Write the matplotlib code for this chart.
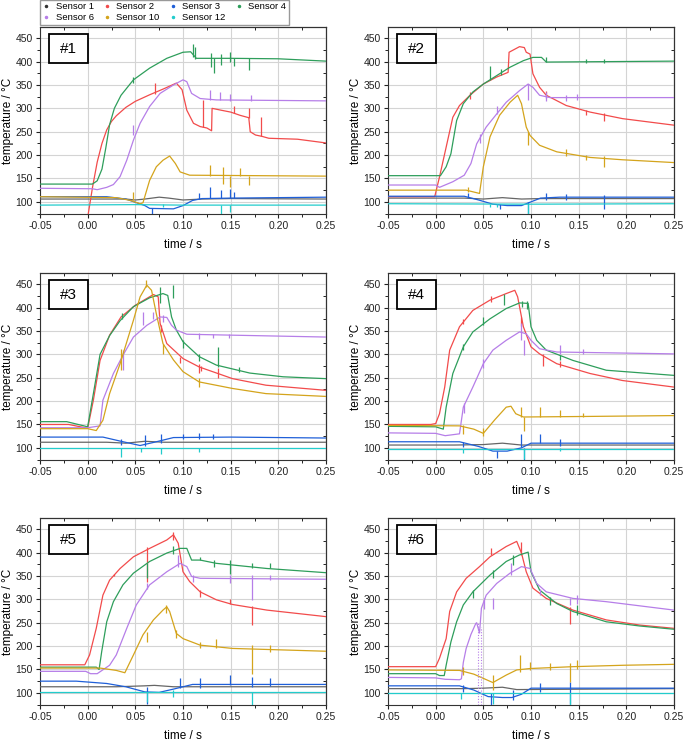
import matplotlib
matplotlib.use("Agg")
import matplotlib.pyplot as plt
from matplotlib.lines import Line2D
from matplotlib.patches import Rectangle
from matplotlib.ticker import MultipleLocator

plt.rcParams['font.family'] = ['Liberation Sans', 'DejaVu Sans']

sensor_ids = [1, 2, 3, 4, 6, 10, 12]
sensor_names = ["Sensor 1", "Sensor 2", "Sensor 3", "Sensor 4", "Sensor 6", "Sensor 10", "Sensor 12"]
sensor_colors = ['#666666', '#f24b4b', '#1f5fd8', '#2e9e5b', '#b67ee8', '#d4a41c', '#22cccc']
run_labels = ["#1", "#2", "#3", "#4", "#5", "#6"]

# ---- run #1 : (time s, temperature degC)
r1_s1 = [(-0.05, 106), (0.04, 106), (0.05, 104), (0.06, 106), (0.075, 110), (0.085, 108), (0.10, 104), (0.12, 106), (0.15, 107), (0.25, 106)]
r1_s2 = [(-0.0005, 60), (0.005, 130), (0.01, 185), (0.015, 225), (0.02, 254), (0.025, 272), (0.03, 284), (0.04, 302), (0.05, 315), (0.065, 329), (0.08, 342), (0.093, 354), (0.099, 340), (0.104, 296), (0.111, 268), (0.118, 261), (0.125, 258), (0.13, 252), (0.1305, 300), (0.14, 296), (0.15, 292), (0.16, 285), (0.169, 280), (0.1705, 250), (0.176, 243), (0.183, 240), (0.19, 236), (0.22, 234), (0.25, 226)]
r1_s3 = [(-0.05, 111), (0.02, 111), (0.04, 106), (0.06, 92), (0.065, 86), (0.09, 85), (0.10, 92), (0.11, 103), (0.12, 107), (0.15, 108), (0.25, 110)]
r1_s4 = [(-0.05, 138), (0.005, 138), (0.01, 145), (0.015, 170), (0.019, 215), (0.023, 265), (0.028, 300), (0.035, 328), (0.048, 361), (0.065, 386), (0.083, 407), (0.10, 420), (0.108, 421), (0.114, 407), (0.15, 407), (0.20, 406), (0.25, 401)]
r1_s6 = [(-0.05, 129), (0.005, 128), (0.01, 126), (0.02, 131), (0.027, 137), (0.034, 154), (0.041, 189), (0.048, 232), (0.055, 268), (0.065, 304), (0.076, 332), (0.09, 350), (0.10, 361), (0.104, 357), (0.109, 332), (0.118, 321), (0.135, 318), (0.25, 316)]
r1_s10 = [(-0.05, 111), (0.03, 109), (0.045, 103), (0.055, 96), (0.058, 98), (0.065, 146), (0.072, 175), (0.079, 189), (0.086, 198), (0.092, 182), (0.097, 164), (0.107, 157), (0.25, 155)]
r1_s12 = [(-0.05, 93), (0.05, 94), (0.10, 93), (0.25, 93)]
r1_spikes = [(4, 0.048, 355, 368), (4, 0.111, 410, 437), (4, 0.113, 405, 432), (4, 0.129, 389, 419), (4, 0.132, 375, 407), (4, 0.140, 393, 416), (4, 0.149, 400, 420), (4, 0.153, 390, 407), (4, 0.169, 382, 407),
             (2, 0.071, 330, 354), (2, 0.121, 261, 318), (2, 0.153, 290, 305), (2, 0.169, 280, 300), (2, 0.182, 240, 282),
             (6, 0.048, 243, 265), (6, 0.128, 318, 339), (6, 0.139, 318, 335), (6, 0.149, 316, 330), (6, 0.171, 316, 328),
             (10, 0.048, 104, 121), (10, 0.128, 155, 179), (10, 0.142, 139, 175), (10, 0.149, 132, 155), (10, 0.169, 136, 155), (10, 0.160, 155, 172),
             (3, 0.128, 108, 132), (3, 0.140, 108, 125), (3, 0.149, 108, 128), (3, 0.153, 108, 122), (3, 0.117, 106, 118), (3, 0.068, 75, 86),
             (12, 0.140, 75, 93), (12, 0.149, 78, 93), (12, 0.079, 90, 96)]

# ---- run #2
r2_s1 = [(-0.05, 108), (0.03, 108), (0.05, 106), (0.07, 109), (0.09, 106), (0.11, 107), (0.25, 107)]
r2_s2 = [(-0.05, 111), (-0.001, 111), (0.004, 153), (0.011, 217), (0.018, 281), (0.025, 306), (0.036, 328), (0.05, 352), (0.064, 367), (0.076, 377), (0.077, 420), (0.088, 432), (0.093, 430), (0.095, 420), (0.099, 416), (0.102, 374), (0.109, 345), (0.116, 328), (0.137, 306), (0.162, 292), (0.196, 278), (0.25, 264)]
r2_s3 = [(-0.05, 112), (0.03, 112), (0.045, 104), (0.06, 95), (0.075, 92), (0.09, 92), (0.10, 100), (0.11, 108), (0.13, 110), (0.25, 110)]
r2_s4 = [(-0.05, 156), (0.005, 156), (0.011, 175), (0.016, 203), (0.022, 274), (0.029, 310), (0.039, 335), (0.05, 352), (0.064, 370), (0.078, 388), (0.092, 402), (0.102, 409), (0.111, 409), (0.116, 399), (0.25, 401)]
r2_s6 = [(-0.05, 136), (0.0, 136), (0.004, 131), (0.018, 143), (0.03, 157), (0.037, 182), (0.043, 224), (0.053, 260), (0.064, 288), (0.074, 313), (0.088, 338), (0.097, 352), (0.102, 345), (0.109, 328), (0.12, 323), (0.25, 323)]
r2_s10 = [(-0.05, 125), (0.032, 125), (0.046, 118), (0.050, 175), (0.057, 239), (0.067, 285), (0.078, 313), (0.086, 328), (0.090, 310), (0.095, 260), (0.099, 242), (0.109, 221), (0.127, 207), (0.162, 195), (0.196, 190), (0.25, 184)]
r2_s12 = [(-0.05, 96), (0.10, 95), (0.25, 96)]
r2_spikes = [(4, 0.057, 360, 391), (4, 0.069, 372, 385), (4, 0.116, 399, 409), (4, 0.158, 398, 405), (4, 0.177, 398, 406),
             (2, 0.036, 320, 335), (2, 0.116, 322, 338), (2, 0.158, 285, 297), (2, 0.177, 274, 290),
             (6, 0.046, 225, 245), (6, 0.064, 288, 305), (6, 0.097, 317, 352), (6, 0.116, 315, 335), (6, 0.137, 316, 328), (6, 0.148, 318, 330),
             (10, 0.034, 120, 132), (10, 0.097, 221, 250), (10, 0.137, 198, 212), (10, 0.158, 190, 200), (10, 0.177, 175, 197),
             (3, 0.034, 108, 118), (3, 0.067, 84, 95), (3, 0.097, 74, 100), (3, 0.116, 104, 118), (3, 0.137, 105, 117), (3, 0.177, 85, 115),
             (12, 0.097, 75, 96), (12, 0.057, 88, 96), (12, 0.064, 89, 96)]

# ---- run #3
r3_s1 = [(-0.05, 112), (0.02, 112), (0.04, 110), (0.06, 114), (0.08, 112), (0.25, 112)]
r3_s2 = [(-0.05, 150), (-0.02, 150), (0.0, 142), (0.006, 202), (0.013, 287), (0.023, 341), (0.035, 380), (0.05, 405), (0.069, 428), (0.074, 423), (0.076, 366), (0.083, 323), (0.10, 291), (0.117, 273), (0.152, 248), (0.187, 234), (0.25, 223)]
r3_s3 = [(-0.05, 123), (0.016, 123), (0.035, 114), (0.055, 105), (0.07, 112), (0.09, 122), (0.15, 123), (0.25, 121)]
r3_s4 = [(-0.05, 156), (-0.022, 156), (0.0, 145), (0.006, 216), (0.013, 300), (0.023, 340), (0.034, 372), (0.048, 402), (0.065, 421), (0.079, 430), (0.084, 426), (0.088, 380), (0.093, 352), (0.10, 327), (0.117, 295), (0.135, 277), (0.170, 260), (0.205, 252), (0.25, 248)]
r3_s6 = [(-0.05, 143), (0.0, 143), (0.013, 147), (0.016, 202), (0.027, 259), (0.037, 298), (0.048, 337), (0.062, 362), (0.076, 380), (0.083, 379), (0.088, 362), (0.093, 352), (0.104, 343), (0.152, 341), (0.25, 337)]
r3_s10 = [(-0.05, 141), (0.0, 141), (0.009, 137), (0.016, 159), (0.023, 216), (0.034, 280), (0.048, 373), (0.055, 423), (0.062, 448), (0.067, 437), (0.072, 387), (0.079, 323), (0.09, 288), (0.10, 263), (0.117, 241), (0.152, 227), (0.187, 216), (0.25, 210)]
r3_s12 = [(-0.05, 100), (0.25, 100)]
r3_spikes = [(4, 0.0355, 376, 389), (4, 0.076, 409, 444), (4, 0.089, 420, 448), (4, 0.100, 313, 330), (4, 0.117, 285, 300), (4, 0.137, 273, 316), (4, 0.159, 262, 273),
             (2, 0.077, 348, 362), (2, 0.097, 282, 295), (2, 0.117, 260, 280), (2, 0.119, 265, 275), (2, 0.137, 250, 270),
             (6, 0.037, 266, 309), (6, 0.058, 362, 390), (6, 0.069, 375, 390), (6, 0.079, 370, 385), (6, 0.117, 332, 345), (6, 0.131, 335, 343), (6, 0.148, 335, 343),
             (10, 0.035, 266, 312), (10, 0.061, 445, 460), (10, 0.079, 300, 323), (10, 0.117, 230, 250),
             (3, 0.035, 107, 118), (3, 0.060, 105, 127), (3, 0.077, 110, 130), (3, 0.100, 118, 130), (3, 0.117, 118, 131), (3, 0.131, 118, 130),
             (12, 0.035, 81, 100), (12, 0.077, 86, 100), (12, 0.056, 92, 100), (12, 0.117, 91, 100)]

# ---- run #4
r4_s1 = [(-0.05, 106), (0.02, 106), (0.05, 107), (0.07, 110), (0.09, 106), (0.25, 106)]
r4_s2 = [(-0.05, 150), (-0.005, 150), (0.0, 152), (0.004, 173), (0.0095, 230), (0.0147, 309), (0.025, 359), (0.039, 394), (0.057, 416), (0.074, 430), (0.083, 437), (0.086, 423), (0.092, 359), (0.10, 316), (0.109, 301), (0.127, 280), (0.162, 259), (0.196, 244), (0.25, 230)]
r4_s3 = [(-0.05, 113), (0.025, 113), (0.045, 103), (0.06, 93), (0.075, 93), (0.09, 100), (0.10, 110), (0.25, 110)]
r4_s4 = [(-0.05, 146), (0.0, 145), (0.008, 140), (0.011, 187), (0.018, 259), (0.029, 316), (0.039, 348), (0.057, 376), (0.074, 398), (0.088, 410), (0.097, 409), (0.10, 359), (0.106, 330), (0.116, 309), (0.144, 287), (0.179, 266), (0.25, 255)]
r4_s6 = [(-0.05, 132), (0.0, 131), (0.01, 126), (0.025, 130), (0.029, 187), (0.039, 230), (0.050, 280), (0.060, 309), (0.074, 330), (0.088, 348), (0.095, 344), (0.10, 330), (0.109, 312), (0.127, 305), (0.25, 301)]
r4_s10 = [(-0.05, 148), (0.025, 147), (0.04, 140), (0.050, 131), (0.062, 160), (0.074, 187), (0.079, 189), (0.084, 173), (0.092, 166), (0.15, 167), (0.25, 169)]
r4_s12 = [(-0.05, 97), (0.25, 97)]
r4_spikes = [(2, 0.029, 365, 376), (2, 0.058, 412, 424), (2, 0.090, 360, 380), (2, 0.113, 276, 300), (2, 0.130, 272, 285),
             (4, 0.029, 310, 322), (4, 0.050, 363, 380), (4, 0.072, 405, 430), (4, 0.091, 401, 415), (4, 0.096, 398, 415), (4, 0.130, 288, 298),
             (6, 0.030, 175, 195), (6, 0.050, 270, 290), (6, 0.090, 330, 366), (6, 0.093, 298, 330), (6, 0.130, 301, 319), (6, 0.155, 301, 312),
             (10, 0.029, 130, 148), (10, 0.050, 126, 143), (10, 0.090, 166, 187), (10, 0.093, 137, 166), (10, 0.109, 166, 187), (10, 0.130, 166, 180), (10, 0.155, 166, 175),
             (3, 0.029, 101, 112), (3, 0.064, 78, 93), (3, 0.090, 101, 130), (3, 0.093, 75, 100), (3, 0.109, 110, 130), (3, 0.130, 105, 119),
             (12, 0.029, 88, 97), (12, 0.093, 76, 97), (12, 0.130, 93, 100)]

# ---- run #5
r5_s1 = [(-0.05, 113), (0.03, 113), (0.06, 115), (0.07, 116), (0.09, 113), (0.25, 113)]
r5_s2 = [(-0.05, 160), (-0.003, 160), (0.002, 181), (0.009, 238), (0.016, 309), (0.023, 341), (0.034, 366), (0.048, 391), (0.065, 409), (0.083, 427), (0.090, 438), (0.095, 420), (0.10, 359), (0.107, 338), (0.118, 316), (0.135, 299), (0.152, 289), (0.188, 277), (0.25, 263)]
r5_s3 = [(-0.05, 125), (-0.012, 125), (0.02, 120), (0.04, 113), (0.06, 102), (0.075, 101), (0.09, 108), (0.11, 118), (0.25, 118)]
r5_s4 = [(-0.05, 155), (0.009, 155), (0.012, 150), (0.0147, 188), (0.020, 252), (0.027, 295), (0.037, 331), (0.048, 356), (0.065, 381), (0.083, 399), (0.097, 409), (0.104, 409), (0.109, 384), (0.118, 384), (0.135, 377), (0.188, 366), (0.25, 357)]
r5_s6 = [(-0.05, 146), (-0.002, 146), (0.003, 141), (0.01, 141), (0.023, 159), (0.030, 181), (0.041, 238), (0.051, 288), (0.065, 331), (0.083, 359), (0.097, 377), (0.104, 370), (0.109, 349), (0.118, 345), (0.25, 343)]
r5_s10 = [(-0.05, 153), (0.013, 153), (0.03, 148), (0.039, 143), (0.048, 181), (0.058, 224), (0.069, 256), (0.079, 277), (0.083, 284), (0.086, 274), (0.093, 227), (0.10, 216), (0.118, 202), (0.152, 195), (0.25, 189)]
r5_s12 = [(-0.05, 101), (0.25, 101)]
r5_spikes = [(2, 0.028, 349, 355), (2, 0.062, 338, 413), (2, 0.089, 427, 445), (2, 0.118, 306, 320), (2, 0.149, 289, 300), (2, 0.172, 245, 286),
             (4, 0.062, 345, 377), (4, 0.090, 398, 414), (4, 0.118, 384, 391), (4, 0.132, 370, 384), (4, 0.149, 355, 384), (4, 0.172, 366, 377), (4, 0.191, 366, 377),
             (6, 0.062, 322, 336), (6, 0.095, 370, 395), (6, 0.111, 338, 352), (6, 0.149, 334, 352), (6, 0.172, 298, 352), (6, 0.191, 342, 352),
             (10, 0.062, 209, 231), (10, 0.082, 270, 288), (10, 0.093, 218, 234), (10, 0.118, 195, 209), (10, 0.135, 195, 216), (10, 0.172, 141, 202), (10, 0.191, 188, 202),
             (3, 0.062, 77, 113), (3, 0.097, 110, 131), (3, 0.118, 110, 131), (3, 0.149, 116, 138), (3, 0.172, 113, 134), (3, 0.191, 115, 131),
             (12, 0.062, 80, 101), (12, 0.172, 75, 101), (12, 0.090, 92, 106)]

# ---- run #6
r6_s1 = [(-0.05, 109), (0.03, 109), (0.05, 110), (0.07, 112), (0.085, 107), (0.25, 109)]
r6_s2 = [(-0.05, 156), (0.0, 156), (0.004, 174), (0.011, 216), (0.0147, 274), (0.022, 316), (0.032, 345), (0.046, 370), (0.057, 391), (0.074, 413), (0.085, 424), (0.090, 399), (0.095, 359), (0.102, 324), (0.116, 302), (0.144, 277), (0.179, 256), (0.214, 245), (0.25, 238)]
r6_s3 = [(-0.05, 115), (0.025, 115), (0.04, 106), (0.055, 92), (0.07, 90), (0.08, 90), (0.09, 97), (0.10, 110), (0.25, 110)]
r6_s4 = [(-0.05, 141), (0.0, 141), (0.004, 137), (0.009, 137), (0.011, 159), (0.016, 209), (0.022, 252), (0.029, 288), (0.039, 316), (0.057, 352), (0.074, 381), (0.088, 395), (0.097, 401), (0.10, 359), (0.109, 320), (0.127, 291), (0.144, 274), (0.179, 252), (0.214, 243), (0.25, 236)]
r6_s6 = [(-0.05, 133), (0.0, 132), (0.01, 129), (0.025, 128), (0.027, 130), (0.029, 165), (0.032, 195), (0.037, 225), (0.042, 248), (0.043, 250), (0.046, 228), (0.048, 281), (0.053, 309), (0.064, 334), (0.078, 356), (0.090, 370), (0.099, 366), (0.106, 334), (0.116, 316), (0.144, 302), (0.179, 295), (0.25, 277)]
r6_s10 = [(-0.05, 149), (0.025, 148), (0.04, 140), (0.060, 122), (0.074, 138), (0.085, 149), (0.099, 152), (0.144, 156), (0.197, 159), (0.25, 161)]
r6_s12 = [(-0.05, 99), (0.25, 99)]
r6_spikes = [(2, 0.058, 395, 409), (2, 0.090, 395, 423), (2, 0.1406, 248, 284),
             (4, 0.039, 302, 320), (4, 0.060, 345, 363), (4, 0.081, 374, 395), (4, 0.120, 288, 305), (4, 0.148, 266, 288),
             (6, 0.051, 280, 302), (6, 0.060, 280, 302), (6, 0.079, 352, 377), (6, 0.109, 309, 323), (6, 0.1406, 288, 302), (6, 0.148, 291, 309),
             (10, 0.029, 138, 155), (10, 0.060, 106, 138), (10, 0.088, 145, 180), (10, 0.099, 148, 166), (10, 0.120, 148, 163), (10, 0.1406, 124, 163), (10, 0.148, 152, 170),
             (3, 0.029, 102, 116), (3, 0.058, 75, 99), (3, 0.081, 84, 106), (3, 0.109, 102, 120), (3, 0.1406, 77, 123),
             (12, 0.027, 86, 99), (12, 0.060, 77, 99), (12, 0.1406, 75, 99)]
# sparse (dotted) dropouts of sensor 6 in run #6
r6_s6_dropouts = [(0.0445, 74, 250), (0.0475, 74, 240)]

runs = [
    ([r1_s1, r1_s2, r1_s3, r1_s4, r1_s6, r1_s10, r1_s12], r1_spikes),
    ([r2_s1, r2_s2, r2_s3, r2_s4, r2_s6, r2_s10, r2_s12], r2_spikes),
    ([r3_s1, r3_s2, r3_s3, r3_s4, r3_s6, r3_s10, r3_s12], r3_spikes),
    ([r4_s1, r4_s2, r4_s3, r4_s4, r4_s6, r4_s10, r4_s12], r4_spikes),
    ([r5_s1, r5_s2, r5_s3, r5_s4, r5_s6, r5_s10, r5_s12], r5_spikes),
    ([r6_s1, r6_s2, r6_s3, r6_s4, r6_s6, r6_s10, r6_s12], r6_spikes),
]

W, H = 685, 741
fig = plt.figure(figsize=(W / 100, H / 100), dpi=100)

# axes boxes in pixels: left, top
lefts = [40, 388]
tops = [27, 273, 518]
aw, ah = 286, 187

for k, (curves, spikes) in enumerate(runs):
    r, c = divmod(k, 2)
    ax = fig.add_axes([lefts[c] / W, 1 - (tops[r] + ah) / H, aw / W, ah / H])
    for sid, col, pts in zip(sensor_ids, sensor_colors, curves):
        t = [p[0] for p in pts]
        T = [p[1] for p in pts]
        ax.plot(t, T, color=col, lw=0.9, zorder=3)
        sp = [s for s in spikes if s[0] == sid]
        if sp:
            ax.vlines([s[1] for s in sp], [s[2] for s in sp], [s[3] for s in sp],
                      color=col, lw=0.9, zorder=3)
    if k == 5:
        ax.vlines([d[0] for d in r6_s6_dropouts], [d[1] for d in r6_s6_dropouts],
                  [d[2] for d in r6_s6_dropouts], color=sensor_colors[4], lw=0.8,
                  linestyles=(0, (1, 1.5)), zorder=3)
    ax.set_xlim(-0.05, 0.25)
    ax.set_ylim(74, 474)
    ax.xaxis.set_major_locator(MultipleLocator(0.05))
    ax.xaxis.set_minor_locator(MultipleLocator(0.025))
    ax.yaxis.set_major_locator(MultipleLocator(50))
    ax.yaxis.set_minor_locator(MultipleLocator(25))
    ax.set_xticks([-0.05, 0.0, 0.05, 0.10, 0.15, 0.20, 0.25])
    ax.set_xticklabels(['-0.05', '0.00', '0.05', '0.10', '0.15', '0.20', '0.25'])
    ax.set_yticks([100, 150, 200, 250, 300, 350, 400, 450])
    ax.grid(True, which='major', color='#d4d4d4', lw=0.8, zorder=0)
    ax.set_axisbelow(True)
    ax.tick_params(which='major', direction='out', length=3, width=0.8, labelsize=7.5, pad=2, colors='#222222')
    ax.tick_params(which='minor', direction='out', length=2, width=0.6)
    for sp_ in ax.spines.values():
        sp_.set_color('#333333')
        sp_.set_linewidth(0.8)
    top = ax.secondary_xaxis('top')
    top.xaxis.set_major_locator(MultipleLocator(0.05))
    top.xaxis.set_minor_locator(MultipleLocator(0.025))
    top.tick_params(which='both', direction='in', length=2.5, width=0.6, labeltop=False)
    right = ax.secondary_yaxis('right')
    right.yaxis.set_major_locator(MultipleLocator(50))
    right.yaxis.set_minor_locator(MultipleLocator(25))
    right.tick_params(which='both', direction='in', length=2.5, width=0.6, labelright=False)
    ax.set_xlabel('time / s', fontsize=8.5, labelpad=6)
    ax.set_ylabel('temperature / °C', fontsize=8.5, labelpad=1.5)
    ax.add_patch(Rectangle((0.031, 0.81), 0.137, 0.15, transform=ax.transAxes,
                           fc='white', ec='black', lw=1.3, zorder=5))
    ax.text(0.0995, 0.885, run_labels[k], transform=ax.transAxes, ha='center', va='center',
            fontsize=11, zorder=6)

# legend, row-major order for 4 columns
order = [0, 4, 1, 5, 2, 6, 3]
handles = [Line2D([], [], ls='none', marker='.', ms=3, color=sensor_colors[i] if i else '#333333') for i in order]
labels = [sensor_names[i] for i in order]
fig.legend(handles, labels, ncol=4, loc='upper left', bbox_to_anchor=(40 / W, 1.0),
           fontsize=6.8, frameon=True, fancybox=False, edgecolor='#999999', framealpha=1,
           handlelength=0.8, handletextpad=0.6, columnspacing=1.0, borderpad=0.25,
           labelspacing=0.2, borderaxespad=0.0)

fig.savefig('out.png', dpi=100, facecolor='white')
